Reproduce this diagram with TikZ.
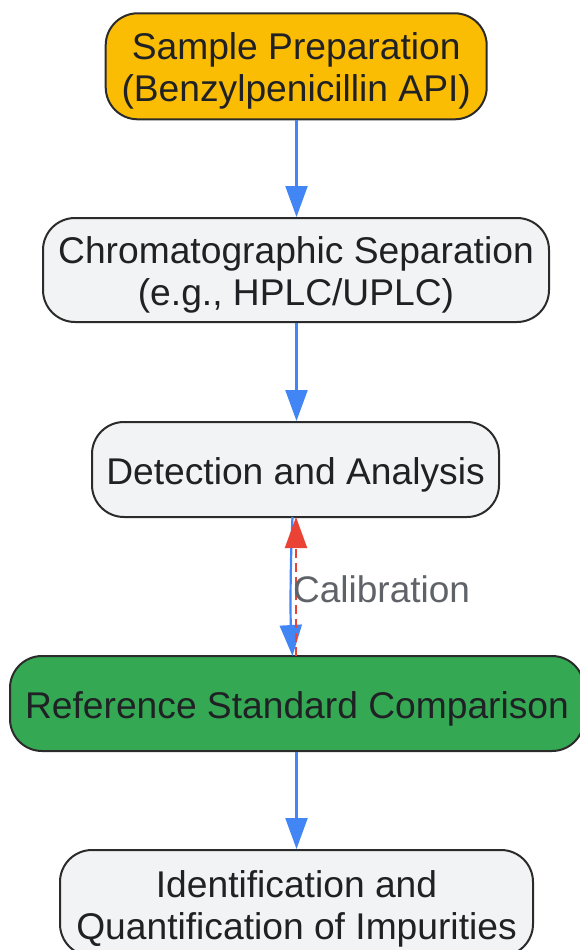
\documentclass[tikz,border=0pt]{standalone}
\usepackage{fontspec}
\setmainfont{Liberation Sans}
\usetikzlibrary{arrows.meta}
\definecolor{gorange}{HTML}{FBBC04}
\definecolor{ggreen}{HTML}{34A853}
\definecolor{ggrey}{HTML}{F1F3F4}
\definecolor{gblue}{HTML}{4285F4}
\definecolor{gred}{HTML}{EA4335}
\definecolor{gtext}{HTML}{202124}
\definecolor{glabel}{HTML}{5F6368}
\definecolor{gborder}{HTML}{2B2B2B}
\tikzset{
  box/.style={draw=gborder, line width=2pt, rounded corners=32pt, inner sep=0pt, anchor=center},
  boxtext/.style={align=center, font=\fontsize{37.2pt}{42pt}\selectfont, text=gtext, inner sep=0pt, yshift=-5pt},
  flow/.style={draw=gblue, line width=2.2pt, -{Triangle[length=31pt,width=22pt]}},
  calib/.style={draw=gred, line width=2.2pt, dash pattern=on 9pt off 5pt, -{Triangle[length=31pt,width=22pt]}},
}
\begin{document}
\begin{tikzpicture}[x=1pt,y=1pt]
\useasboundingbox (0,0) rectangle (580,-950);
\node[box, fill=gorange, minimum width=381pt, minimum height=106pt] (a) at (296.2,-66.3) {};
\node[boxtext] (at) at (a.center) {Sample Preparation\\(Benzylpenicillin API)};
\node[box, fill=ggrey, minimum width=506pt, minimum height=104pt] (b) at (296,-270) {};
\node[boxtext] (bt) at (b.center) {Chromatographic Separation\\(e.g., HPLC/UPLC)};
\node[box, fill=ggrey, minimum width=407pt, minimum height=95pt] (c) at (295.5,-469.5) {};
\node[boxtext] (ct) at (c.center) {Detection and Analysis};
\node[box, fill=ggreen, minimum width=574pt, minimum height=95pt] (d) at (297,-703.5) {};
\node[boxtext] (dt0) at (d.center) {Reference Standard Comparison};
\node[box, fill=ggrey, minimum width=473pt, minimum height=106pt] (e) at (296.5,-903) {};
\node[boxtext, yshift=-1pt] (et) at (e.center) {Identification and\\Quantification of Impurities};
\coordinate (cb) at (292.5,-517);
\coordinate (dt) at (292.5,-656);
\coordinate (dr) at (296,-656);
\coordinate (cr) at (296,-517);
\draw[flow] (a.south -| 296.5,0) -- (b.north -| 296.5,0);
\draw[flow] (b.south -| 296.5,0) -- (c.north -| 296.5,0);
\draw[flow] (cb) .. controls (290,-570) and (290.5,-620) .. (dt);
\draw[calib] (dr) -- (cr);
\node[font=\fontsize{37pt}{40pt}\selectfont, text=glabel, anchor=west, inner sep=0pt] (lab) at (293,-589) {Calibration};
\draw[flow] (d.south -| 296.5,0) -- (e.north -| 296.5,0);
\end{tikzpicture}
\end{document}
